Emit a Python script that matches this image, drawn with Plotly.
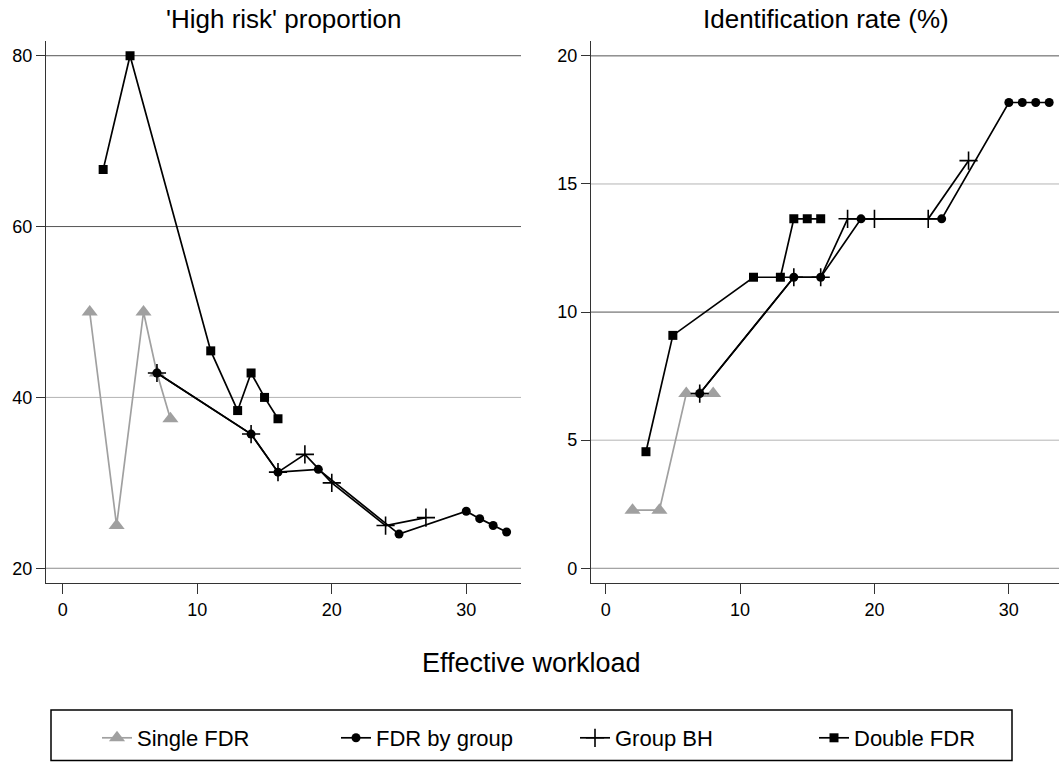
import plotly.graph_objects as go

# Effective workload (x) for each procedure, with the share of flagged units that are
# 'high risk' and the identification rate (%) at each workload.
single_x = [2, 4, 6, 7, 8]
single_risk = [50.0, 25.0, 50.0, 42.86, 37.5]
single_ident = [2.27, 2.27, 6.82, 6.82, 6.82]

bygroup_x = [7, 14, 16, 19, 25, 30, 31, 32, 33]
bygroup_risk = [42.86, 35.71, 31.25, 31.58, 24.0, 26.67, 25.81, 25.0, 24.24]
bygroup_ident = [6.82, 11.36, 11.36, 13.64, 13.64, 18.18, 18.18, 18.18, 18.18]

groupbh_x = [7, 14, 16, 18, 20, 24, 27]
groupbh_risk = [42.86, 35.71, 31.25, 33.33, 30.0, 25.0, 25.93]
groupbh_ident = [6.82, 11.36, 11.36, 13.64, 13.64, 13.64, 15.91]

double_x = [3, 5, 11, 13, 14, 15, 16]
double_risk = [66.67, 80.0, 45.45, 38.46, 42.86, 40.0, 37.5]
double_ident = [4.55, 9.09, 11.36, 11.36, 13.64, 13.64, 13.64]

panel_titles = ["'High risk' proportion", "Identification rate (%)"]
x_title = "Effective workload"
x_ticks = [0, 10, 20, 30]
risk_ticks = [20, 40, 60, 80]
ident_ticks = [0, 5, 10, 15, 20]

W, H = 1059, 762
FONT = "Liberation Sans, Arial, sans-serif"
GREY = "#a0a0a0"

# grid line shades for each tick value
risk_grid_colors = ["#8c8c8c", "#b4b4b4", "#555555", "#555555"]
ident_grid_colors = ["#8c8c8c", "#b4b4b4", "#555555", "#b4b4b4", "#555555"]

series = [
    dict(name="Single FDR", x=single_x, y1=single_risk, y2=single_ident,
         color=GREY, symbol="triangle-up", size=14, lw=0),
    dict(name="FDR by group", x=bygroup_x, y1=bygroup_risk, y2=bygroup_ident,
         color="black", symbol="circle", size=9, lw=0),
    dict(name="Group BH", x=groupbh_x, y1=groupbh_risk, y2=groupbh_ident,
         color="black", symbol="cross-thin", size=13, lw=1.6),
    dict(name="Double FDR", x=double_x, y1=double_risk, y2=double_ident,
         color="black", symbol="square", size=9, lw=0),
]

fig = go.Figure()

# horizontal grid lines, drawn beneath the data
for ticks, colors, xref, yref in ((risk_ticks, risk_grid_colors, "x domain", "y"),
                                  (ident_ticks, ident_grid_colors, "x2 domain", "y2")):
    for v, c in zip(ticks, colors):
        fig.add_shape(type="line", xref=xref, yref=yref, x0=0, x1=1, y0=v, y1=v,
                      line=dict(color=c, width=1), layer="below")

for s in series:
    for ax, ykey in (("", "y1"), ("2", "y2")):
        marker = dict(symbol=s["symbol"], size=s["size"], color=s["color"])
        if s["symbol"] == "cross-thin":
            marker["line"] = dict(width=s["lw"], color=s["color"])
        else:
            marker["line"] = dict(width=0)
        fig.add_trace(go.Scatter(
            x=s["x"], y=s[ykey], mode="lines+markers", name=s["name"],
            line=dict(color=s["color"], width=1.7),
            marker=marker,
            xaxis="x" + ax, yaxis="y" + ax,
            showlegend=(ax == ""), legendgroup=s["name"],
        ))

def px_x(p):
    return p / W

def px_y(p):
    return (H - p) / H

axis_common = dict(
    showline=True, linecolor="#333", linewidth=1.2,
    ticks="outside", tickcolor="#333", tickwidth=1.2,
    tickfont=dict(family=FONT, size=18, color="black"),
    zeroline=False, automargin=False, showgrid=False,
)

fig.update_layout(
    width=W, height=H,
    margin=dict(l=0, r=0, t=0, b=0, autoexpand=False),
    paper_bgcolor="white", plot_bgcolor="white",
    font=dict(family=FONT, color="black"),
    xaxis=dict(domain=[px_x(46), px_x(521)], range=[-1.25, 34.07],
               tickvals=x_ticks, ticklen=10, anchor="y", **axis_common),
    yaxis=dict(domain=[px_y(583.3), px_y(40.5)], range=[18.24, 81.78],
               tickvals=risk_ticks, ticklen=9, anchor="x", **axis_common),
    xaxis2=dict(domain=[px_x(591), 1.0], range=[-1.09, 33.73],
                tickvals=x_ticks, ticklen=10, anchor="y2", **axis_common),
    yaxis2=dict(domain=[px_y(583.3), px_y(40.5)], range=[-0.586, 20.6],
                tickvals=ident_ticks, ticklen=9, anchor="x2", **axis_common),
    showlegend=True,
    legend=dict(
        orientation="h", x=px_x(97), xanchor="left",
        y=px_y(738), yanchor="middle",
        font=dict(family=FONT, size=22, color="black"),
        bgcolor="rgba(0,0,0,0)", borderwidth=0,
        entrywidth=194, entrywidthmode="pixels",
        itemsizing="trace",
    ),
)

# Panel titles and shared x-axis title
fig.add_annotation(text=panel_titles[0], x=px_x(283.5), y=px_y(19),
                   xref="paper", yref="paper", showarrow=False,
                   xanchor="center", yanchor="middle",
                   font=dict(family=FONT, size=26, color="black"))
fig.add_annotation(text=panel_titles[1], x=px_x(826), y=px_y(19),
                   xref="paper", yref="paper", showarrow=False,
                   xanchor="center", yanchor="middle",
                   font=dict(family=FONT, size=26, color="black"))
fig.add_annotation(text=x_title, x=px_x(531), y=px_y(663),
                   xref="paper", yref="paper", showarrow=False,
                   xanchor="center", yanchor="middle",
                   font=dict(family=FONT, size=27, color="black"))

# Frame around the legend
fig.add_shape(type="rect", xref="paper", yref="paper",
              x0=px_x(51), x1=px_x(1012), y0=px_y(760.5), y1=px_y(710),
              line=dict(color="black", width=1.5), fillcolor="rgba(0,0,0,0)")

fig.write_html("out.html")
